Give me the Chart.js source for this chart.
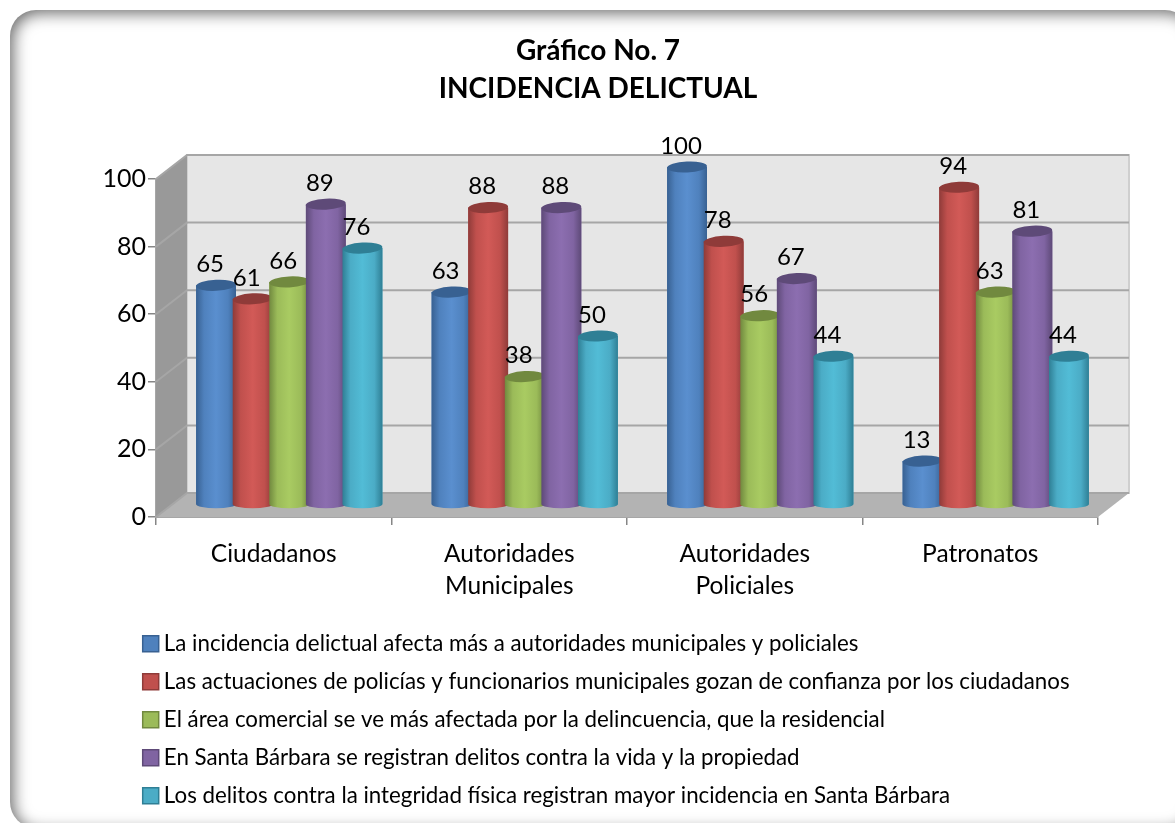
<!DOCTYPE html>
<html><head><meta charset="utf-8">
<style>
html,body{margin:0;padding:0;background:#fff;width:1175px;height:823px;overflow:hidden}
#frame{position:absolute;left:10px;top:10px;width:1181px;height:818px;border-radius:26px;background:#fff;box-shadow:inset 3px 3px 16px rgba(0,0,0,.6);}
#c{position:absolute;left:0;top:0}
</style>
<script src="https://cdn.jsdelivr.net/npm/chart.js@4"></script>
</head><body>
<div id="frame"></div>
<canvas id="c" width="1175" height="823"></canvas>
<script>
const categories=["Ciudadanos",["Autoridades","Municipales"],["Autoridades","Policiales"],"Patronatos"];
const titleLines=["Gráfico No. 7","INCIDENCIA DELICTUAL"];
const labelsS=[
"La incidencia delictual afecta más a autoridades municipales y policiales",
"Las actuaciones de policías y funcionarios municipales gozan de confianza por los ciudadanos",
"El área comercial se ve más afectada por la delincuencia, que la residencial",
"En Santa Bárbara se registran delitos contra la vida y la propiedad",
"Los delitos contra la integridad física registran mayor incidencia en Santa Bárbara"];
const serie1=[65,63,100,13];
const serie2=[61,88,78,94];
const serie3=[66,38,56,63];
const serie4=[89,88,67,81];
const serie5=[76,50,44,44];
const colors=["#4f81bd","#c0504d","#9bbb59","#8064a2","#4bacc6"];
const bright=["#5a8fcf","#d25a57","#a9cb62","#8c6eb0","#52bcd6"];
const dark=["#386192","#8f3b39","#71893f","#5e4a78","#2f7f95"];
const seriesValues=[serie1,serie2,serie3,serie4,serie5];
const DX=31,DY=-24,SX=15.5,SY=-12,RY=5.5;
const FONT="Lato, Carlito, sans-serif";
const walls={id:'walls',
 afterLayout(ch){const l=ch.legend;l.left=133;l.right=l.left+1000;l.top=617;},
 beforeDatasetsDraw(ch){
  const c=ch.ctx,a=ch.chartArea,y=ch.scales.y;
  c.save();
  c.fillStyle='#e6e6e6';c.fillRect(a.left+DX,a.top+DY,a.right-a.left,a.bottom-a.top);
  c.strokeStyle='#cfcfcf';c.lineWidth=2;c.strokeRect(a.left+DX,a.top+DY,a.right-a.left,a.bottom-a.top);
  c.fillStyle='#999999';c.beginPath();c.moveTo(a.left,a.top);c.lineTo(a.left+DX,a.top+DY);c.lineTo(a.left+DX,a.bottom+DY);c.lineTo(a.left,a.bottom);c.closePath();c.fill();
  c.fillStyle='#b3b3b3';c.beginPath();c.moveTo(a.left,a.bottom);c.lineTo(a.left+DX,a.bottom+DY);c.lineTo(a.right+DX,a.bottom+DY);c.lineTo(a.right,a.bottom);c.closePath();c.fill();
  c.strokeStyle='#a6a6a6';c.lineWidth=2;
  y.ticks.forEach(t=>{const p=y.getPixelForValue(t.value);
   c.beginPath();c.moveTo(a.left,p);c.lineTo(a.left+DX,p+DY);c.lineTo(a.right+DX,p+DY);c.stroke();});
  c.restore();
  c.save();c.translate(SX,SY);
 },
 afterDatasetsDraw(ch){
  const c=ch.ctx;
  ch.data.datasets.forEach((d,i)=>{
   ch.getDatasetMeta(i).data.forEach(b=>{
    const w=b.width,l=b.x-w/2,r=b.x+w/2,base=b.base,top=b.y;
    const g=c.createLinearGradient(l,0,r,0);
    g.addColorStop(0,dark[i]);g.addColorStop(.2,colors[i]);g.addColorStop(.5,bright[i]);g.addColorStop(.8,colors[i]);g.addColorStop(1,dark[i]);
    c.fillStyle=g;c.beginPath();
    c.moveTo(l,top);c.lineTo(l,base);c.ellipse(b.x,base,w/2,RY-1.5,0,Math.PI,0,true);c.lineTo(r,top);c.closePath();c.fill();
    c.fillStyle=dark[i];c.beginPath();c.ellipse(b.x,top,w/2,RY,-0.05,0,Math.PI*2);c.fill();
   });
  });
  c.restore();
  c.save();c.fillStyle='#000';c.font='24px '+FONT;c.textAlign='center';c.textBaseline='middle';
  ch.data.datasets.forEach((d,i)=>{ch.getDatasetMeta(i).data.forEach((b,j)=>{
    c.fillText(String(d.data[j]),b.x+SX-6,b.y+SY-21);});});
  c.restore();
 }
};
new Chart(document.getElementById('c'),{
 type:'bar',
 data:{labels:categories,datasets:seriesValues.map((v,i)=>({label:labelsS[i],data:v,backgroundColor:colors[i],borderWidth:0,clip:false}))},
 plugins:[walls],
 options:{responsive:false,animation:false,
  categoryPercentage:0.777,barPercentage:1.09,
  layout:{padding:{left:98,right:77,top:0,bottom:0}},
  scales:{
   x:{grid:{display:true,drawOnChartArea:false,drawTicks:true,tickLength:8,color:'#868686',lineWidth:1.5},border:{color:'#a6a6a6',width:2},
      ticks:{color:'#000',font:{family:FONT,size:24.5,lineHeight:1.3},padding:13,maxRotation:0,autoSkip:false},afterFit(s){s.height=106}},
   y:{min:0,max:100,grid:{display:true,drawOnChartArea:false,drawTicks:true,tickLength:8,color:'#868686',lineWidth:1.5},border:{color:'#a6a6a6',width:2},
      ticks:{stepSize:20,color:'#000',font:{family:FONT,size:25},padding:2},afterFit(s){s.width=58}}
  },
  plugins:{
   title:{display:true,text:titleLines,color:'#000',font:{family:FONT,size:28,weight:'bold',lineHeight:1.357},padding:{top:32,bottom:71}},
   legend:{display:true,position:'bottom',align:'start',labels:{color:'#000',font:{family:FONT,size:22.3},usePointStyle:true,pointStyle:'rect',boxWidth:4,boxHeight:16,padding:15.7,
     generateLabels(ch){return Chart.defaults.plugins.legend.labels.generateLabels(ch).map((it,i)=>({...it,pointStyle:'rect',lineWidth:1.5,strokeStyle:dark[i]}));}}},
   tooltip:{enabled:false}
  }
 }
});
</script>
</body></html>
